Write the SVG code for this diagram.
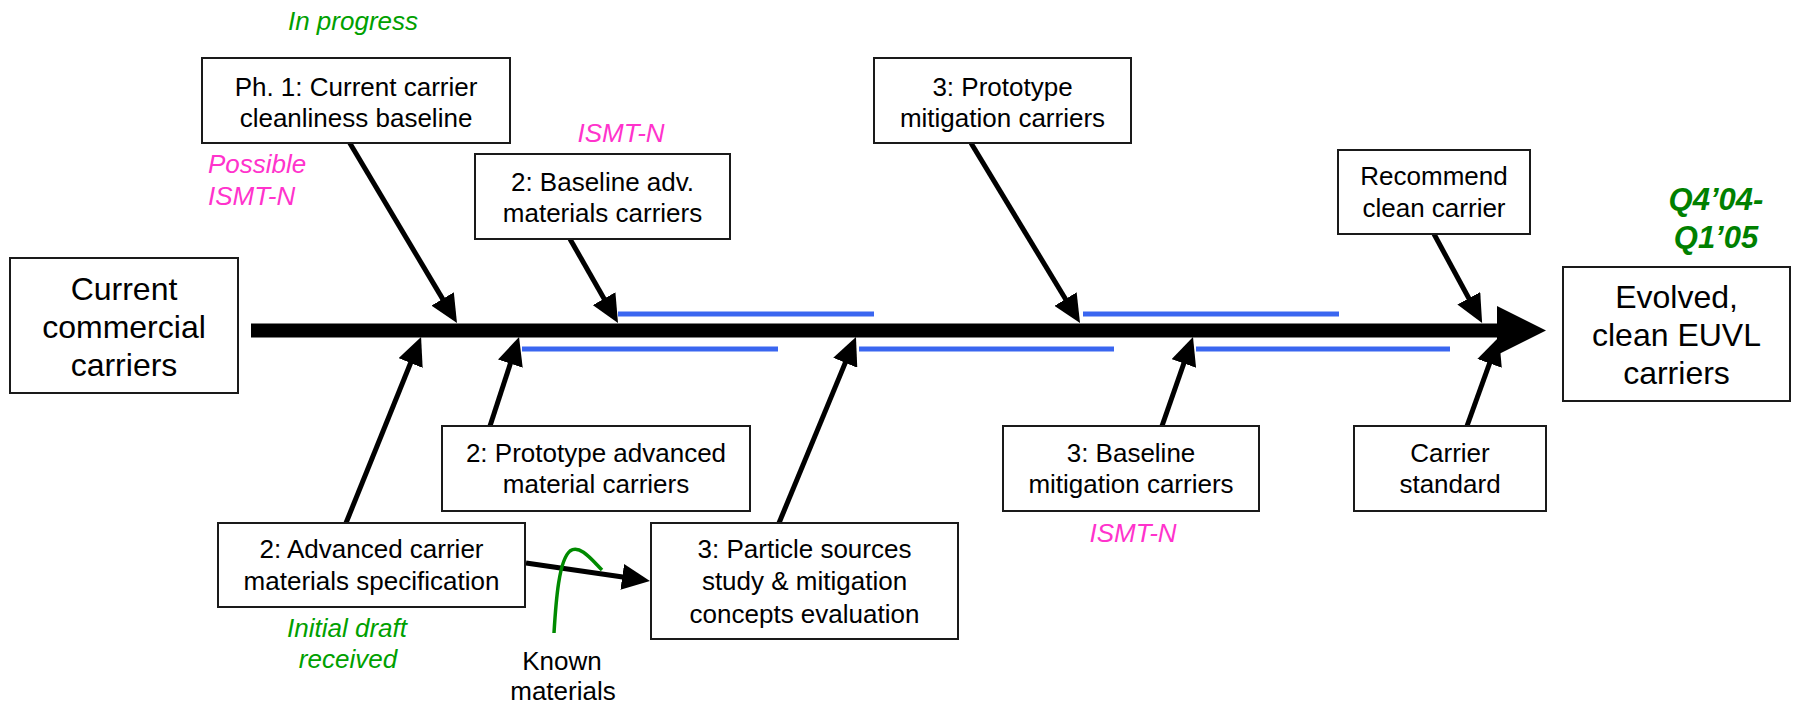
<svg xmlns="http://www.w3.org/2000/svg" width="1793" height="705" viewBox="0 0 1793 705">
<style>
.box{fill:#fff;stroke:#1a1a1a;stroke-width:2}
.t{font-family:"Liberation Sans",Arial,sans-serif;font-size:26px;fill:#000;text-anchor:middle}
.tb{font-family:"Liberation Sans",Arial,sans-serif;font-size:32px;fill:#000;text-anchor:middle}
.grn{font-family:"Liberation Sans",Arial,sans-serif;font-size:26px;font-style:italic;fill:#00a000;text-anchor:middle}
.mag{font-family:"Liberation Sans",Arial,sans-serif;font-size:26px;font-style:italic;fill:#ff33cc}
.q{font-family:"Liberation Sans",Arial,sans-serif;font-size:31px;font-style:italic;font-weight:bold;fill:#008000;text-anchor:middle}
.c{stroke:#000;stroke-width:5;fill:none;marker-end:url(#ah)}
.blue{stroke:#3a66f0;stroke-width:5}
</style>
<defs>
<marker id="ah" markerUnits="userSpaceOnUse" viewBox="0 0 28 26" markerWidth="28" markerHeight="26" refX="4" refY="13" orient="auto">
<path d="M0,0 L28,13 L0,26 z" fill="#000"/>
</marker>
</defs>
<g id="annotations">
<text class="grn" x="353" y="30">In progress</text>
<text class="mag" x="208" y="173">Possible</text>
<text class="mag" x="208" y="205">ISMT-N</text>
<text class="mag" x="621" y="142" text-anchor="middle">ISMT-N</text>
<text class="mag" x="1133" y="542" text-anchor="middle">ISMT-N</text>
<text class="grn" x="347" y="637">Initial draft</text>
<text class="grn" x="348" y="668">received</text>
<text class="t" x="562" y="670">Known</text>
<text class="t" x="563" y="700">materials</text>
<text class="q" x="1716" y="210">Q4’04-</text>
<text class="q" x="1716" y="248">Q1’05</text>
</g>
<g id="connectors">
<line x1="251" y1="330.5" x2="1498" y2="330.5" stroke="#000" stroke-width="14"/>
<polygon points="1497,306 1546,330.5 1497,355" fill="#000"/>
<line class="blue" x1="618" y1="314" x2="874" y2="314"/>
<line class="blue" x1="1083" y1="314" x2="1339" y2="314"/>
<line class="blue" x1="522" y1="349" x2="778" y2="349"/>
<line class="blue" x1="859" y1="349" x2="1114" y2="349"/>
<line class="blue" x1="1196" y1="349" x2="1450" y2="349"/>
<line class="c" x1="348" y1="140" x2="444.7" y2="302.4"/>
<line class="c" x1="570" y1="239" x2="606.1" y2="302.2"/>
<line class="c" x1="971" y1="143" x2="1067.6" y2="302.5"/>
<line class="c" x1="1434" y1="234" x2="1470.7" y2="301.8"/>
<line class="c" x1="490" y1="426" x2="511.6" y2="359.8"/>
<line class="c" x1="346" y1="523" x2="412.1" y2="359.3"/>
<line class="c" x1="779" y1="523" x2="846.8" y2="359.1"/>
<line class="c" x1="1162" y1="426" x2="1185.1" y2="359.7"/>
<line class="c" x1="1467" y1="426" x2="1490.9" y2="359.6"/>
<line class="c" x1="526" y1="563" x2="626.2" y2="577.5"/>
<path d="M554,633 C556,600 559,560 570,551 C580,544 592,560 602,570" stroke="#008a00" stroke-width="3.5" fill="none"/>
</g>
<g id="n-current">
<rect class="box" x="10" y="258" width="228" height="135"/>
<text class="tb" x="124" y="300">Current</text>
<text class="tb" x="124" y="338">commercial</text>
<text class="tb" x="124" y="376">carriers</text>
</g>
<g id="n-evolved">
<rect class="box" x="1563" y="267" width="227" height="134"/>
<text class="tb" x="1676.5" y="308">Evolved,</text>
<text class="tb" x="1676.5" y="346">clean EUVL</text>
<text class="tb" x="1676.5" y="384">carriers</text>
</g>
<g id="n-ph1">
<rect class="box" x="202" y="58" width="308" height="85"/>
<text class="t" x="356" y="96">Ph. 1: Current carrier</text>
<text class="t" x="356" y="127">cleanliness baseline</text>
</g>
<g id="n-baseline-adv">
<rect class="box" x="475" y="154" width="255" height="85"/>
<text class="t" x="602.5" y="191">2: Baseline adv.</text>
<text class="t" x="602.5" y="222">materials carriers</text>
</g>
<g id="n-proto-mit">
<rect class="box" x="874" y="58" width="257" height="85"/>
<text class="t" x="1002.5" y="96">3: Prototype</text>
<text class="t" x="1002.5" y="127">mitigation carriers</text>
</g>
<g id="n-recommend">
<rect class="box" x="1338" y="150" width="192" height="84"/>
<text class="t" x="1434" y="185">Recommend</text>
<text class="t" x="1434" y="217">clean carrier</text>
</g>
<g id="n-proto-adv">
<rect class="box" x="442" y="426" width="308" height="85"/>
<text class="t" x="596" y="462">2: Prototype advanced</text>
<text class="t" x="596" y="493">material carriers</text>
</g>
<g id="n-adv-spec">
<rect class="box" x="218" y="523" width="307" height="84"/>
<text class="t" x="371.5" y="558">2: Advanced carrier</text>
<text class="t" x="371.5" y="590">materials specification</text>
</g>
<g id="n-particle">
<rect class="box" x="651" y="523" width="307" height="116"/>
<text class="t" x="804.5" y="558">3: Particle sources</text>
<text class="t" x="804.5" y="590">study &amp; mitigation</text>
<text class="t" x="804.5" y="623">concepts evaluation</text>
</g>
<g id="n-baseline-mit">
<rect class="box" x="1003" y="426" width="256" height="85"/>
<text class="t" x="1131" y="462">3: Baseline</text>
<text class="t" x="1131" y="493">mitigation carriers</text>
</g>
<g id="n-standard">
<rect class="box" x="1354" y="426" width="192" height="85"/>
<text class="t" x="1450" y="462">Carrier</text>
<text class="t" x="1450" y="493">standard</text>
</g>
</svg>
